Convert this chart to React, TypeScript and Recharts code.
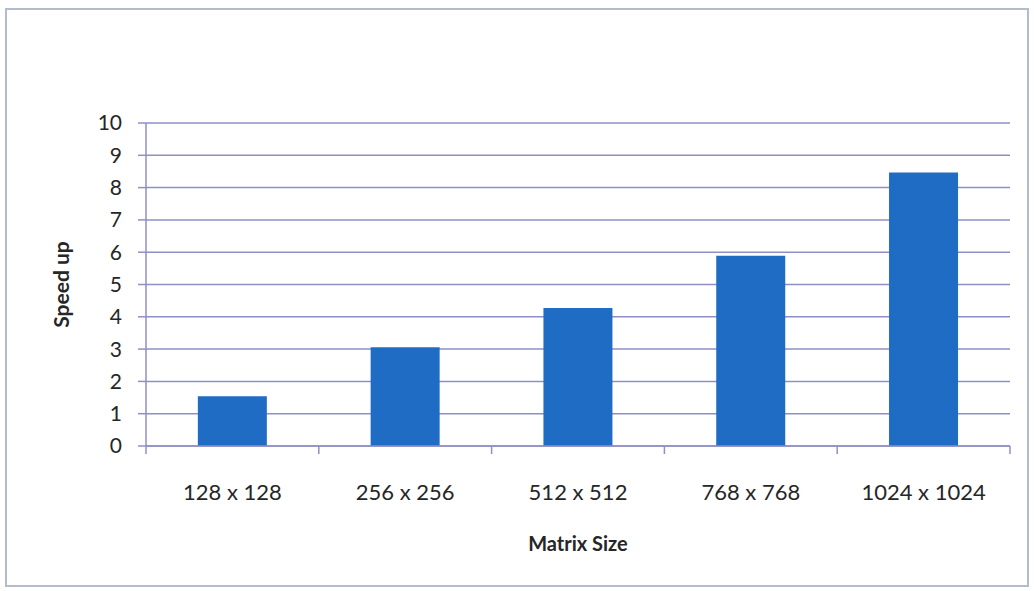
import { BarChart, Bar, XAxis, YAxis, CartesianGrid, Label } from "recharts";

const categories = ["128 x 128", "256 x 256", "512 x 512", "768 x 768", "1024 x 1024"];
const speedup = [1.54, 3.06, 4.27, 5.89, 8.47];
const yTicks = [0, 1, 2, 3, 4, 5, 6, 7, 8, 9, 10];

const data = categories.map((name, i) => ({ name, speedup: speedup[i] }));

const lineColor = "#8f8fc6";
const textColor = "#262626";
const font = "Lato, 'Open Sans', sans-serif";
const xTickGap = 38;

// category label plus a tick mark on the boundary left of it (and right of the last one)
function CategoryTick(props: any) {
  const { x, y, payload, index, visibleTicksCount, width } = props;
  const half = payload && payload.offset ? payload.offset : width / categories.length / 2;
  const axisY = y - xTickGap;
  const last = index === (visibleTicksCount ?? categories.length) - 1;
  return (
    <g>
      <line x1={x - half} x2={x - half} y1={axisY} y2={axisY + 8} stroke={lineColor} strokeWidth={1.5} />
      {last && <line x1={x + half} x2={x + half} y1={axisY} y2={axisY + 8} stroke={lineColor} strokeWidth={1.5} />}
      <text x={x} y={y} dy="0.71em" textAnchor="middle" fill={textColor} fontSize={22} fontFamily={font}>
        {payload.value}
      </text>
    </g>
  );
}

export default function App() {
  return (
    <div style={{ position: "absolute", left: 0, top: 0, width: 1034, height: 591, background: "#fff" }}>
      <div
        style={{
          position: "absolute",
          left: 5,
          top: 8,
          width: 1024,
          height: 579,
          border: "2px solid #b3bccc",
          boxSizing: "border-box",
        }}
      />
      <BarChart
        width={1034}
        height={591}
        data={data}
        margin={{ top: 123, right: 24, left: 0, bottom: 0 }}
        barCategoryGap="30%"
        style={{ position: "absolute", left: 0, top: 0, fontFamily: font }}
      >
        <CartesianGrid vertical={false} stroke={lineColor} strokeWidth={1.5} />
        <XAxis
          dataKey="name"
          height={145}
          interval={0}
          stroke={lineColor}
          strokeWidth={1.5}
          tickLine={false}
          tickSize={0}
          tickMargin={xTickGap}
          tick={<CategoryTick />}
        >
          <Label value="Matrix Size" position="center" dy={25} style={{ fill: textColor, fontSize: 20, fontWeight: 700, fontFamily: font }} />
        </XAxis>
        <YAxis
          width={146}
          domain={[0, 10]}
          ticks={yTicks}
          interval={0}
          stroke={lineColor}
          strokeWidth={1.5}
          tickSize={8}
          tickMargin={16}
          tick={{ fill: textColor, fontSize: 21, fontFamily: font }}
        >
          <Label value="Speed up" position="center" angle={-90} dx={-11} style={{ fill: textColor, fontSize: 21, fontWeight: 700, fontFamily: font }} />
        </YAxis>
        <Bar dataKey="speedup" fill="#1f6cc4" isAnimationActive={false} />
      </BarChart>
    </div>
  );
}
